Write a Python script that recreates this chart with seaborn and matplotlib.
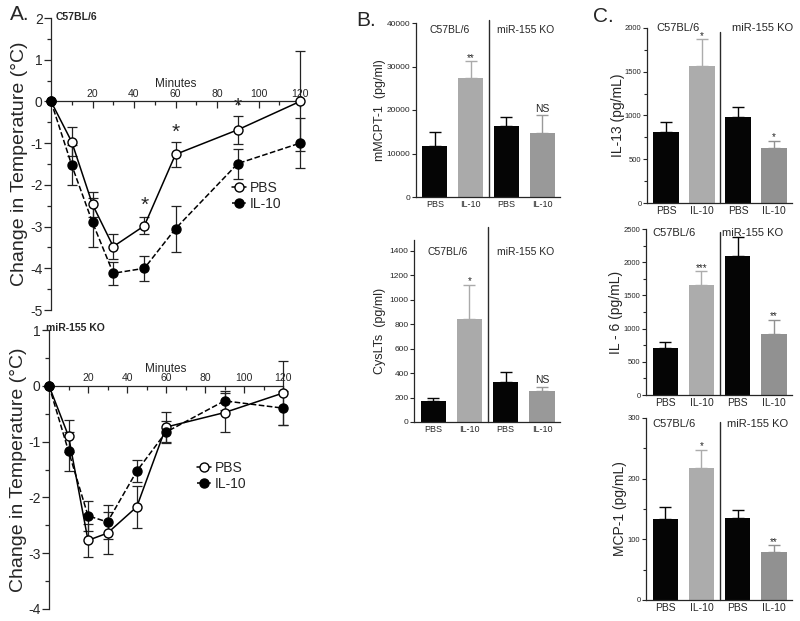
import numpy as np
import pandas as pd
import matplotlib
matplotlib.use('Agg')
import matplotlib.pyplot as plt
from matplotlib.ticker import MultipleLocator
import seaborn as sns

# ---------------- data ----------------
minutes = [0, 10, 20, 30, 45, 60, 90, 120]
wt_pbs = [0, -0.97, -2.47, -3.48, -2.98, -1.27, -0.68, 0.0]
wt_pbs_err = [0, 0.35, 0.3, 0.3, 0.2, 0.3, 0.34, 1.2]
wt_il10 = [0, -1.53, -2.9, -4.12, -4.0, -3.05, -1.49, -1.0]
wt_il10_err = [0, 0.48, 0.58, 0.28, 0.3, 0.55, 0.36, 0.6]
ko_pbs = [0, -0.9, -2.77, -2.64, -2.17, -0.74, -0.48, -0.13]
ko_pbs_err = [0, 0.28, 0.3, 0.38, 0.38, 0.27, 0.35, 0.58]
ko_il10 = [0, -1.17, -2.33, -2.44, -1.53, -0.83, -0.27, -0.4]
ko_il10_err = [0, 0.35, 0.27, 0.3, 0.2, 0.2, 0.17, 0.3]
wt_star_minutes = [45, 60, 90]
wt_star_y = [-2.34, -0.58, 0.04]

groups = ['C57BL/6 PBS', 'C57BL/6 IL-10', 'miR-155 KO PBS', 'miR-155 KO IL-10']
tick_labels = ['PBS', 'IL-10', 'PBS', 'IL-10']
strain_labels = ['C57BL/6', 'miR-155 KO']

mmcpt1 = [11700, 27300, 16400, 14800]
mmcpt1_err = [3300, 3900, 1900, 4050]
mmcpt1_sig = ['', '**', '', 'NS']
cyslts = [175, 845, 330, 250]
cyslts_err = [20, 278, 80, 40]
cyslts_sig = ['', '*', '', 'NS']
il13 = [814, 1567, 979, 623]
il13_err = [115, 306, 122, 88]
il13_sig = ['', '*', '', '*']
il6 = [710, 1650, 2100, 915]
il6_err = [90, 210, 275, 220]
il6_sig = ['', '***', '', '**']
mcp1 = [133, 217, 135, 79]
mcp1_err = [20, 31, 14, 11]
mcp1_sig = ['', '*', '', '**']

# ---------------- style ----------------
sns.set_theme(style='ticks')
plt.rcParams['font.family'] = ['Liberation Sans', 'DejaVu Sans']
plt.rcParams['axes.unicode_minus'] = False
plt.rcParams['axes.linewidth'] = 0.9

W, H = 800, 621
fig = plt.figure(figsize=(8, 6.21), dpi=100)


def px_axes(l, t, r, b):
    return fig.add_axes([l / W, 1 - b / H, (r - l) / W, (b - t) / H])


def time_panel(ax, pbs, pbs_err, il10, il10_err, ylim, title, title_xy, legend_xy, ylabel_x):
    for vals, errs, ls, fc, lab in [(pbs, pbs_err, '-', 'white', 'PBS'),
                                    (il10, il10_err, '--', 'black', 'IL-10')]:
        df = pd.DataFrame({'Minutes': minutes, 'Change': vals})
        ax.errorbar(minutes, vals, yerr=errs, fmt='none', ecolor='#222222',
                    elinewidth=0.9, capsize=3.5, capthick=0.9, zorder=3, clip_on=False)
        sns.lineplot(data=df, x='Minutes', y='Change', ax=ax, color='black',
                     linestyle=ls, linewidth=1.1, marker='o', markersize=6.5,
                     markerfacecolor=fc, markeredgecolor='black', markeredgewidth=1,
                     label=lab, clip_on=False, zorder=4)
    ax.set_xlim(0, 120)
    ax.set_ylim(*ylim)
    ax.spines['right'].set_visible(False)
    ax.spines['bottom'].set_visible(False)
    ax.spines['top'].set_position(('data', 0))
    ax.xaxis.set_ticks_position('top')
    ax.xaxis.set_label_position('top')
    ax.set_xticks([20, 40, 60, 80, 100, 120])
    ax.xaxis.set_minor_locator(MultipleLocator(10))
    ax.tick_params(axis='x', which='both', direction='in', labelsize=7.5, pad=2)
    ax.tick_params(axis='x', which='major', length=5, width=0.9)
    ax.tick_params(axis='x', which='minor', length=3, width=0.9)
    ax.set_xlabel('Minutes', fontsize=8.5, labelpad=1)
    ax.yaxis.set_major_locator(MultipleLocator(1))
    ax.yaxis.set_minor_locator(MultipleLocator(0.5))
    ax.tick_params(axis='y', which='major', length=5, width=0.9, labelsize=10, pad=1)
    ax.tick_params(axis='y', which='minor', length=3, width=0.9)
    ax.set_ylabel('Change in Temperature (°C)', fontsize=14)
    ax.yaxis.set_label_coords(ylabel_x, 0.5)
    fig.text(title_xy[0] / W, 1 - title_xy[1] / H, title, fontsize=7.5,
             fontweight='bold', ha='center', va='center')
    ax.legend(loc='center left', bbox_to_anchor=(legend_xy[0] / W, 1 - legend_xy[1] / H),
              bbox_transform=fig.transFigure, frameon=False, fontsize=10,
              handlelength=1.0, handletextpad=0.3, labelspacing=0.15,
              borderpad=0, borderaxespad=0)


def place_star(ax, x, y, s, fs):
    ax.annotate(s, xy=(x, y), xytext=(0, -0.57 * fs), textcoords='offset points',
                ha='center', va='baseline', fontsize=fs, annotation_clip=False)


def bar_panel(ax, vals, errs, sig, colors, ymax, major, minor, ylabel, ylabel_x,
              header_x, header_frac, div_top, tick_fs, label_fs, header_fs, xt_fs):
    df = pd.DataFrame({'group': groups, 'value': vals})
    sns.barplot(data=df, x='group', y='value', hue='group',
                palette=dict(zip(groups, colors)), saturation=1, width=0.7,
                errorbar=None, legend=False, ax=ax, linewidth=0)
    for p, v, e, c, s in zip(ax.patches, vals, errs, colors, sig):
        xc = p.get_x() + p.get_width() / 2
        ax.errorbar(xc, v, yerr=[[0], [e]], fmt='none', ecolor=c, elinewidth=1,
                    capsize=4, capthick=1, zorder=3)
        if s:
            if s == 'NS':
                ax.annotate(s, xy=(xc, v + e), xytext=(0, 2.5), textcoords='offset points',
                            ha='center', va='baseline', fontsize=header_fs)
            else:
                ax.annotate(s, xy=(xc, v + e), xytext=(0, 4.3 - 0.57 * 7), textcoords='offset points',
                            ha='center', va='baseline', fontsize=7)
    ax.set_xlim(-0.53, 3.5)
    ax.set_ylim(0, ymax)
    ax.axvline(1.5, ymin=0, ymax=div_top, color='#2a2a2a', lw=1, clip_on=False)
    sns.despine(ax=ax)
    ax.set_xticks(range(len(groups)))
    ax.set_xticklabels(tick_labels, fontsize=xt_fs)
    ax.tick_params(axis='x', length=0, pad=2)
    ax.yaxis.set_major_locator(MultipleLocator(major))
    if minor:
        ax.yaxis.set_minor_locator(MultipleLocator(minor))
    ax.tick_params(axis='y', which='major', length=3, width=0.8, labelsize=tick_fs, pad=1)
    ax.tick_params(axis='y', which='minor', length=2, width=0.8)
    ax.set_xlabel('')
    ax.set_ylabel(ylabel, fontsize=label_fs)
    ax.yaxis.set_label_coords(ylabel_x, 0.5)
    tr = ax.get_xaxis_transform()
    for hx, lab in zip(header_x, strain_labels):
        ax.text(hx, header_frac, lab, transform=tr, ha='center', va='center', fontsize=header_fs)


# ---------------- panel A ----------------
axA1 = px_axes(51, 18, 300, 310)
time_panel(axA1, wt_pbs, wt_pbs_err, wt_il10, wt_il10_err, (-5, 2), 'C57BL/6', (76, 17),
           (232, 196), -0.092)
for t, y in zip(wt_star_minutes, wt_star_y):
    place_star(axA1, t, y, '*', 15)

axA2 = px_axes(49, 330, 283, 609)
time_panel(axA2, ko_pbs, ko_pbs_err, ko_il10, ko_il10_err, (-4, 1), 'miR-155 KO', (75, 328),
           (197, 476), -0.092)

# ---------------- panel B ----------------
wt_col_b, ko_col_b = '#aaaaaa', '#999999'
axB1 = px_axes(416, 23, 560, 197)
bar_panel(axB1, mmcpt1, mmcpt1_err, mmcpt1_sig, ['#050505', wt_col_b, '#050505', ko_col_b],
          40000, 10000, None, 'mMCPT-1  (pg/ml)', -0.205, [0.4, 2.55], 0.96, 1.02,
          6, 9, 7.5, 6.5)
axB2 = px_axes(414, 240, 560, 422)
bar_panel(axB2, cyslts, cyslts_err, cyslts_sig, ['#050505', wt_col_b, '#050505', ko_col_b],
          1490, 200, None, 'CysLTs  (pg/ml)', -0.19, [0.4, 2.55], 0.934, 1.07,
          6, 9, 7.5, 6.5)

# ---------------- panel C ----------------
wt_col_c, ko_col_c = '#acacac', '#919191'
cols_c = ['#050505', wt_col_c, '#050505', ko_col_c]
axC1 = px_axes(647, 28, 792, 203)
bar_panel(axC1, il13, il13_err, il13_sig, cols_c, 2000, 500, 250, 'IL-13 (pg/mL)', -0.155,
          [0.33, 2.67], 1.0, 0.98, 5.5, 10, 8, 7.5)
axC2 = px_axes(646, 229, 792, 395)
bar_panel(axC2, il6, il6_err, il6_sig, cols_c, 2500, 500, 250, 'IL - 6 (pg/mL)', -0.158,
          [0.25, 2.42], 0.976, 0.98, 5.5, 10, 8, 7.5)
axC3 = px_axes(646, 418, 792, 600)
bar_panel(axC3, mcp1, mcp1_err, mcp1_sig, cols_c, 300, 100, 50, 'MCP-1 (pg/mL)', -0.128,
          [0.25, 2.55], 0.967, 0.98, 5.5, 10, 8, 7.5)

# panel letters
fig.text(20 / W, 1 - 15 / H, 'A.', fontsize=15, ha='center', va='center')
fig.text(366 / W, 1 - 21 / H, 'B.', fontsize=15, ha='center', va='center')
fig.text(603 / W, 1 - 17 / H, 'C.', fontsize=15, ha='center', va='center')

fig.savefig('out.png', dpi=100)
